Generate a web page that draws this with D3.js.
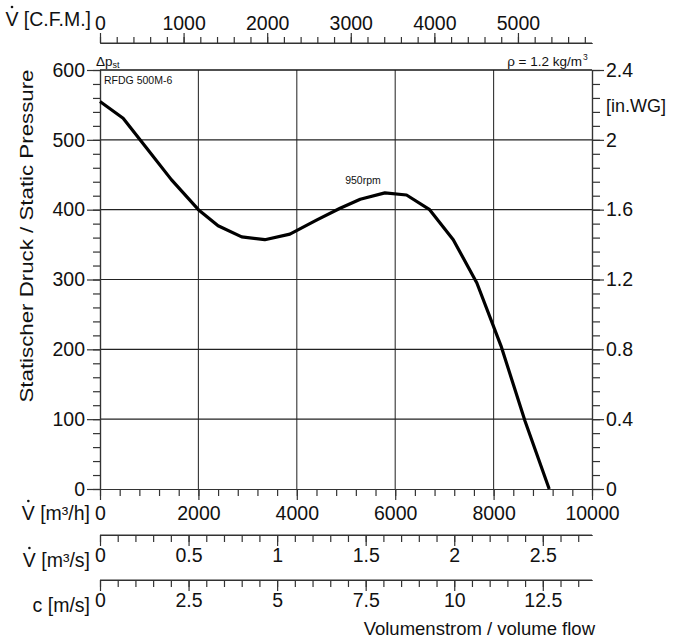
<!DOCTYPE html>
<html><head><meta charset="utf-8">
<script src="https://cdn.jsdelivr.net/npm/d3@7"></script>
<style>
body{margin:0;background:#fff}
svg text{font-family:"Liberation Sans",Arial,sans-serif;fill:#111}
.axis path,.axis line{stroke:#333;stroke-width:1.2}
</style></head><body>
<svg id="c" width="673" height="640"></svg>
<script>
// ---- data ----
const flowM3h = [0, 470, 950, 1450, 2000, 2400, 2880, 3350, 3860, 4400, 4880, 5290, 5790, 6230, 6700, 7180, 7660, 8150, 8640, 9130];
const pressurePa = [555, 531, 488, 443, 400, 377, 361, 357, 365, 385, 402, 415, 424, 421, 400, 357, 295, 205, 97, 0];
const paTicks = [0, 100, 200, 300, 400, 500, 600];
const inwgTicks = [0, 0.4, 0.8, 1.2, 1.6, 2, 2.4];
const m3hTicks = [0, 2000, 4000, 6000, 8000, 10000];
const cfmTicks = [0, 1000, 2000, 3000, 4000, 5000];
const m3sTicks = [0, 0.5, 1, 1.5, 2, 2.5];
const cTicks = [0, 2.5, 5, 7.5, 10, 12.5];
const CFM_TO_M3H = 1.699, M3S_TO_M3H = 3600, C_TO_M3H = 720;

const svg = d3.select("#c");
const L = 100, R = 592, T = 70, B = 489;
const x = d3.scaleLinear().domain([0, 10000]).range([L, R]);
const y = d3.scaleLinear().domain([0, 600]).range([B, T]);
const yIn = d3.scaleLinear().domain([0, 2.4]).range([B, T]);
const xCfm = d3.scaleLinear().domain([0, 10000 / CFM_TO_M3H]).range([L, R]);
const xM3s = d3.scaleLinear().domain([0, 10000 / M3S_TO_M3H]).range([L, R]);
const xC = d3.scaleLinear().domain([0, 10000 / C_TO_M3H]).range([L, R]);

const FS = 19.5;
function fmt(d){ return String(d); }

// grid
const g = svg.append("g");
g.selectAll("line.v").data(m3hTicks.slice(1, -1)).join("line")
  .attr("x1", d => x(d)).attr("x2", d => x(d)).attr("y1", T).attr("y2", B)
  .attr("stroke", "#333").attr("stroke-width", 1.1);
g.selectAll("line.h").data(paTicks.slice(1)).join("line")
  .attr("x1", L).attr("x2", R).attr("y1", d => y(d)).attr("y2", d => y(d))
  .attr("stroke", "#222").attr("stroke-width", 1.1);

function axis(gen, tr, vals, size, labels, fs) {
  const a = svg.append("g").attr("class", "axis").attr("transform", tr)
    .call(gen.tickValues(vals).tickSize(size).tickSizeOuter(0).tickPadding(2)
      .tickFormat(labels ? fmt : () => ""));
  a.selectAll("text").attr("font-size", fs || FS).attr("fill", "#111");
  return a;
}
const rng = (a, b, s) => d3.range(0, Math.round((b - a) / s) + 1).map(i => +(a + i * s).toFixed(4));

// left axis
axis(d3.axisLeft(y), `translate(${L},0)`, rng(0, 600, 20), 7, false);
axis(d3.axisLeft(y), `translate(${L},0)`, paTicks, 13, true);
// right axis
axis(d3.axisRight(yIn), `translate(${R},0)`, rng(0, 2.4, 0.08), 8, false);
axis(d3.axisRight(yIn), `translate(${R},0)`, inwgTicks, 12, true);
// bottom m3/h
axis(d3.axisBottom(x), `translate(0,${B})`, rng(0, 10000, 400), 7, false);
const bm = axis(d3.axisBottom(x), `translate(0,${B})`, m3hTicks, 11, true);
bm.selectAll("text").attr("dy", "0.9em");
// top cfm
const tp = 43;
axis(d3.axisTop(xCfm), `translate(0,${tp})`, rng(0, 5800, 200), 6, false);
const tc = axis(d3.axisTop(xCfm), `translate(0,${tp})`, cfmTicks, 10, true);
tc.selectAll("text").attr("dy", "-0.05em");
svg.append("line").attr("x1", L).attr("x2", R).attr("y1", tp).attr("y2", tp).attr("stroke", "#333").attr("stroke-width", 1.2);
// m3/s
const sy = 535;
axis(d3.axisBottom(xM3s), `translate(0,${sy})`, rng(0, 2.7, 0.1), 7, false);
axis(d3.axisBottom(xM3s), `translate(0,${sy})`, m3sTicks, 11, true);
svg.append("line").attr("x1", L).attr("x2", R).attr("y1", sy).attr("y2", sy).attr("stroke", "#333").attr("stroke-width", 1.2);
// c m/s
const cy = 580;
axis(d3.axisBottom(xC), `translate(0,${cy})`, rng(0, 13.5, 0.5), 7, false);
axis(d3.axisBottom(xC), `translate(0,${cy})`, cTicks, 11, true);
svg.append("line").attr("x1", L).attr("x2", R).attr("y1", cy).attr("y2", cy).attr("stroke", "#333").attr("stroke-width", 1.2);

// top frame line (600)
svg.append("line").attr("x1", L).attr("x2", R).attr("y1", T).attr("y2", T).attr("stroke", "#111").attr("stroke-width", 1.2);

// curve
svg.append("path")
  .datum(flowM3h.map((f, i) => [f, pressurePa[i]]))
  .attr("fill", "none").attr("stroke", "#000").attr("stroke-width", 3.2)
  .attr("stroke-linejoin", "round")
  .attr("d", d3.line().x(d => x(d[0])).y(d => y(d[1])));

// texts
function t(txt, px, py, fs, anchor) {
  return svg.append("text").attr("x", px).attr("y", py).attr("font-size", fs)
    .attr("text-anchor", anchor || "start").text(txt);
}
function vdot(label, rx, py) {
  const tx = t(label, rx, py, FS, "end");
  const bb = tx.node().getBBox();
  svg.append("circle").attr("cx", bb.x + 6.6).attr("cy", py - 19).attr("r", 1.3).attr("fill", "#111");
}
vdot("V [C.F.M.]", 91, 26);
vdot("V [m\u00B3/h]", 90, 520);
vdot("V [m\u00B3/s]", 90, 567);
t("c [m/s]", 90, 612, FS, "end");
t("Volumenstrom / volume flow", 595, 635, 18.5, "end");
svg.append("text").attr("transform", "translate(33,236) rotate(-90)")
  .attr("text-anchor", "middle").attr("font-size", 19)
  .attr("textLength", 333).attr("lengthAdjust", "spacingAndGlyphs")
  .text("Statischer Druck / Static Pressure");
t("[in.WG]", 606, 112, 18, "start");
const dp = t("\u0394p", 96, 66, 13.5, "start");
dp.append("tspan").attr("font-size", 9).attr("dy", 2).text("st");
t("\u03C1 = 1.2 kg/m", 582, 66, 13.5, "end");
t("3", 583, 60, 8.5, "start");
t("RFDG 500M-6", 104, 84, 10.5, "start");
t("950rpm", 363, 184, 10.5, "middle");
</script></body></html>
